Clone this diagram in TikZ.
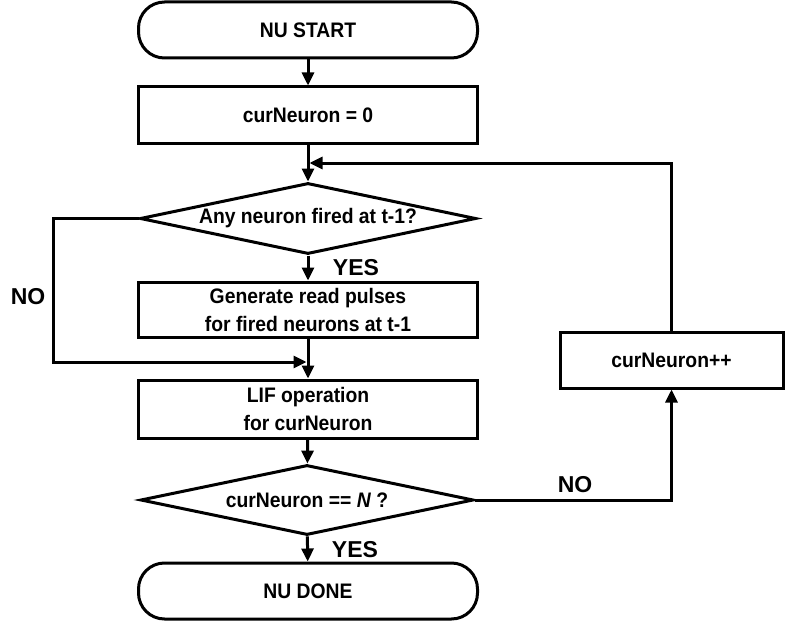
\documentclass[tikz,border=0pt]{standalone}
\usepackage{fontspec}
\setmainfont{Liberation Sans}
\newfontfamily\boxfont{Liberation Sans}[FakeStretch=0.92]
\usetikzlibrary{shapes.geometric,arrows.meta}
\begin{document}
\begin{tikzpicture}[x=1pt,y=-1pt,
  every node/.style={font=\boxfont\bfseries\fontsize{21}{28}\selectfont, align=center, inner sep=0pt},
  procbox/.style={draw, line width=3pt, rectangle, minimum width=339pt},
  termbox/.style={draw, line width=3pt, rectangle, rounded corners=26pt, minimum width=339pt, minimum height=56pt},
  decbox/.style={draw, line width=3pt, diamond, aspect=5.5},
  flow/.style={line width=3pt, -{Triangle[length=13pt,width=12pt]}},
  answer/.style={font=\bfseries\fontsize{23}{26}\selectfont}
]
\useasboundingbox (0,0) rectangle (785,626);

% main column
\node[termbox] (start) at (308,30) {NU START};
\node[procbox, minimum height=56pt] (init) at (308,115) {curNeuron = 0};
\node[decbox, minimum width=336pt, minimum height=71pt] (dec1) at (308,218.5) {Any neuron fired at t-1?};
\node[procbox, minimum height=55pt] (gen) at (308,309.5) {Generate read pulses\\for fired neurons at t-1};
\node[procbox, minimum height=58pt] (lif) at (308,409) {LIF operation\\for curNeuron};
\node[decbox, minimum width=333pt, minimum height=70pt] (dec2) at (307,500) {curNeuron == \textit{N} ?};
\node[termbox] (done) at (308,591) {NU DONE};

% loop counter
\node[procbox, minimum width=223pt, minimum height=56pt] (inc) at (671.5,360) {curNeuron++};

% join points on the main column
\coordinate (j1) at (306.5,362);
\coordinate (j2) at (309.5,163);

\draw[flow] (start) -- (init);
\draw[flow] (init) -- (dec1);
\draw[flow] (dec1) -- (gen);
\draw[flow] (gen) -- (lif);
\draw[flow] (lif) -- (dec2);
\draw[flow] (dec2) -- (done);
\draw[flow] (dec1.west) -- ++(-85,0) |- (j1);
\draw[flow] (dec2.east) -| (inc.south);
\draw[flow] (inc.north) |- (j2);

% branch labels
\node[answer] (yes1) at (356,268) {YES};
\node[answer] (no1) at (28,297) {NO};
\node[answer] (yes2) at (355,550) {YES};
\node[answer] (no2) at (575,485) {NO};
\end{tikzpicture}
\end{document}
